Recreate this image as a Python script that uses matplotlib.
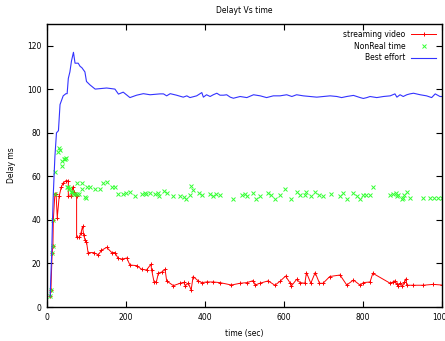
import matplotlib
matplotlib.use('Agg')
import matplotlib.pyplot as plt

# streaming video (red, line + '+')
video_t = [8, 10, 13, 15, 16, 20, 23, 26, 31, 36, 41, 48, 54, 54, 62, 65, 69, 72, 75, 75,
           82, 86, 90, 93, 96, 100, 104, 118, 130, 138, 151, 164, 172, 180, 190, 202, 210, 227, 240, 252,
           263, 265, 271, 277, 282, 292, 299, 303, 320, 337, 346, 350, 358, 365, 370, 383, 392, 404, 421, 438,
           467, 489, 506, 522, 527, 539, 560, 577, 590, 604, 615, 619, 632, 641, 653, 657, 668, 679, 690, 699,
           716, 742, 759, 776, 793, 801, 818, 825, 869, 876, 881, 886, 889, 895, 900, 905, 909, 911, 928, 953,
           978, 999]
video_d = [5, 8, 25, 28, 40, 52, 52, 41, 51, 55, 57, 58, 58, 51, 51, 55, 53, 52, 51, 32,
           32, 34, 37, 33, 31, 30, 25, 25, 24, 26, 27.4, 25, 25, 22.4, 22, 22.5, 19.3, 19, 17.3, 17,
           19.6, 17, 11.6, 11.6, 15.5, 16.2, 17.3, 12, 9.8, 10.9, 11.3, 9.8, 10.9, 7.8, 14, 12, 11.2, 11.5, 11.5, 11.2,
           10.1, 10.9, 11.2, 12.1, 10.1, 10.9, 12, 10, 11.8, 14.2, 11.2, 9.7, 12.7, 11.2, 10.9, 15.8, 10.9, 15.8, 10.9, 10.9,
           14, 14.7, 10.1, 12.4, 10, 11.2, 11.5, 15.5, 10.9, 11.5, 12, 10.5, 9.8, 10.9, 9.5, 11.5, 12.9, 10, 10, 10,
           10.4, 10.1]

# NonReal time (green 'x')
nrt_t = [8, 10, 13, 15, 16, 20, 20, 29, 31, 33, 37, 39, 43, 46, 49, 50, 52, 55, 57, 60,
         63, 66, 70, 75, 77, 81, 88, 89, 96, 100, 102, 108, 122, 133, 141, 151, 164, 172, 181, 192,
         200, 210, 223, 241, 247, 251, 261, 273, 281, 284, 296, 304, 320, 337, 347, 351, 362, 365, 370, 386,
         392, 413, 420, 429, 438, 470, 493, 501, 507, 521, 529, 540, 559, 568, 577, 590, 603, 619, 632, 641,
         653, 657, 668, 679, 690, 699, 718, 742, 750, 759, 776, 785, 793, 801, 808, 818, 825, 869, 876, 884,
         887, 890, 898, 901, 905, 911, 920, 951, 970, 980, 990, 999]
nrt_d = [5, 8, 25, 28, 40, 52, 62, 71, 73, 72, 65, 67, 68, 68, 68.5, 55, 55, 54, 54.5, 53,
         53, 52, 52, 57, 52, 52, 54, 57, 50.7, 50, 55, 55, 54, 54, 57, 57.2, 55.3, 55.3, 52, 52,
         52.5, 52.7, 51.2, 52, 52.3, 52, 52.3, 52, 52.3, 51, 53.5, 52.3, 51, 51, 50.7, 49.6, 51.3, 55.6, 53.6, 52.3,
         51.3, 52, 51, 52, 51.3, 49.8, 51.3, 52, 51, 52.3, 49.8, 51, 52.3, 51.3, 49.8, 51.3, 54.1, 49.8, 52.7, 51.3,
         51.3, 52.7, 51, 52.7, 51.3, 51, 52, 51, 52.3, 49.8, 52.3, 51, 49.8, 51.3, 51.3, 51.3, 55.3, 51.3, 52, 52.3,
         51, 51.5, 49.8, 50.3, 51.5, 52.7, 50, 50, 50.2, 50.2, 50.2, 50.2]

# Best effort (blue line)
best_t = [8, 12, 14, 16, 20, 24, 29, 33, 41, 48, 51, 54, 58, 62, 67, 71, 79, 84, 88, 96,
          100, 109, 122, 151, 172, 181, 193, 210, 227, 244, 261, 286, 295, 303, 312, 328, 345, 354, 362, 379,
          392, 396, 404, 413, 421, 430, 438, 447, 455, 464, 472, 489, 506, 523, 540, 556, 573, 590, 607, 620,
          632, 649, 666, 683, 700, 717, 734, 746, 759, 776, 793, 801, 810, 818, 835, 852, 869, 881, 886, 894,
          902, 911, 919, 928, 945, 961, 974, 983, 995, 1000]
best_d = [5, 25, 40, 52, 69, 80, 81, 93, 97, 98, 98, 105, 108, 113, 117, 112, 112, 110.5, 110, 108,
          103.6, 102, 100.1, 100.6, 100.1, 97.8, 98.7, 96.2, 97.3, 98, 97.5, 97.9, 97.9, 97, 98, 97.3, 96.4, 97, 96.2, 97,
          98.5, 96.4, 97.5, 96.7, 97.5, 98.2, 97.3, 97.3, 97.5, 96.4, 95.9, 96.7, 96.2, 97.5, 97, 96.2, 97, 97, 97.5, 96.7,
          97.5, 97, 96.7, 96.4, 96.7, 97, 96.7, 96.2, 96.7, 97.2, 96.2, 95.8, 96.2, 96.7, 96.2, 96.7, 97, 97.9, 96.4, 97.5,
          96.7, 97.5, 97.9, 98.2, 97.5, 97, 96.2, 97.9, 96.7, 96.7]

fs = 5.5
fig = plt.figure(figsize=(4.45, 3.41), dpi=100)
ax = fig.add_axes([0.1056, 0.0997, 0.8875, 0.8299])

ax.plot(video_t, video_d, color='#ff0000', lw=0.7, marker='+', ms=3, mew=0.7,
        label='streaming video')
ax.plot(nrt_t, nrt_d, color='#33ff33', lw=0, marker='x', ms=2.5, mew=0.7,
        label='NonReal time')
ax.plot(best_t, best_d, color='#3333ff', lw=0.8, label='Best effort')

ax.set_xlim(0, 1000)
ax.set_ylim(0, 130)
ax.set_xticks(range(0, 1001, 200))
ax.set_yticks(range(0, 121, 20))
ax.tick_params(direction='in', top=True, right=True, length=4, width=0.8,
               labelsize=fs, pad=4)
for s in ax.spines.values():
    s.set_linewidth(1.0)

ax.set_title('Delayt Vs time', fontsize=fs, pad=8)
ax.set_xlabel('time (sec)', fontsize=fs, labelpad=5)
ax.set_ylabel('Delay ms', fontsize=fs, labelpad=8)

ax.legend(loc='upper right', fontsize=fs, frameon=False, markerfirst=False,
          handlelength=3.2, labelspacing=0.35, borderaxespad=0.4)

plt.savefig('out.png', dpi=100)
